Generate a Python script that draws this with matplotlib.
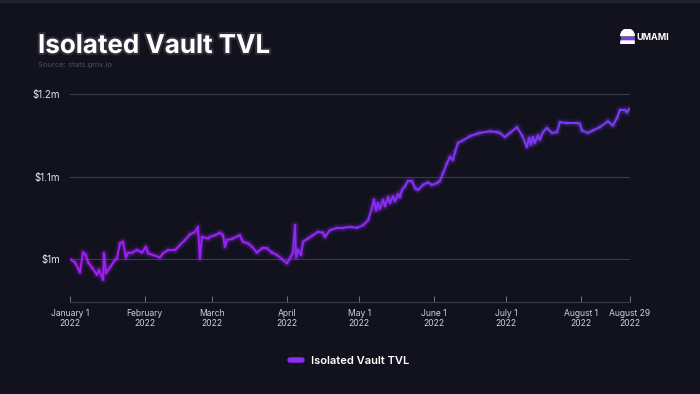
import numpy as np
import matplotlib.pyplot as plt
from matplotlib.collections import LineCollection
from matplotlib.colors import LinearSegmentedColormap
from matplotlib.lines import Line2D
from matplotlib.patches import Rectangle, Wedge, FancyBboxPatch
import matplotlib.patheffects as pe

plt.rcParams['font.family'] = ['Inter', 'DejaVu Sans']

# days since Jan 1 2022, TVL in thousands of USD
day = [0, 2.1, 4.1, 5.4, 6.6, 7.5, 9.1, 11.2, 12.0, 13.7, 14.1, 14.9, 16.6, 18.7,
       19.5, 20.7, 22.0, 23.2, 24.1, 25.7, 27.8, 29.9, 31.5, 32.4, 34.4, 37.3,
       38.6, 40.7, 43.6, 45.6, 47.7, 49.8, 51.9, 53.1, 53.9, 54.8, 57.3, 58.1,
       60.2, 62.2, 63.5, 64.3, 65.1, 67.6, 70.5, 71.8, 73.9, 75.5, 77.6, 79.7,
       81.7, 83.8, 85.9, 88.0, 90.0, 91.3, 92.5, 93.4, 93.8, 94.6, 95.9, 96.7,
       98.8, 100.8, 102.9, 105.0, 105.8, 107.9, 110.8, 113.3, 116.2, 119.1,
       121.6, 123.7, 125.3, 126.1, 127.0, 127.8, 128.6, 129.9, 130.7, 132.0,
       132.8, 134.0, 134.9, 136.1, 136.9, 137.8, 139.0, 140.2, 141.9, 143.2,
       144.4, 146.5, 148.5, 150.2, 152.3, 153.5, 154.8, 156.4, 157.7, 158.9,
       159.8, 161.0, 163.1, 166.0, 168.9, 170.1, 174.3, 177.2, 178.4, 180.5,
       182.6, 185.5, 187.6, 189.6, 190.5, 191.3, 192.1, 192.9, 194.2, 195.0,
       196.3, 197.9, 200.0, 202.1, 203.3, 206.2, 210.4, 211.6, 212.4, 214.9,
       217.0, 219.9, 223.2, 225.3, 227.0, 228.2, 230.3, 231.1, 232.4]
tvl = [1000, 996, 984, 1008, 1005, 996, 990, 981, 987, 975, 1007, 983, 990, 999,
       1001, 1019, 1021, 1002, 1008, 1008, 1011, 1008, 1015, 1007, 1005, 1002,
       1007, 1011, 1011, 1017, 1023, 1030, 1033, 1039, 1001, 1027, 1025, 1027,
       1029, 1032, 1029, 1015, 1023, 1025, 1029, 1021, 1019, 1015, 1008, 1013,
       1013, 1008, 1005, 1000, 995, 1001, 1008, 1041, 1002, 1011, 1005, 1021,
       1025, 1029, 1033, 1032, 1027, 1035, 1038, 1038, 1039, 1038,
       1041, 1047, 1062, 1072, 1059, 1068, 1061, 1072, 1064, 1075,
       1068, 1076, 1070, 1079, 1075, 1084, 1088, 1095, 1095, 1086,
       1084, 1090, 1093, 1090, 1092, 1095, 1104, 1116, 1124, 1120,
       1130, 1141, 1144, 1149, 1152, 1153, 1155, 1154, 1153, 1148,
       1153, 1160, 1150, 1136, 1147, 1139, 1148, 1141, 1150, 1145,
       1154, 1159, 1153, 1154, 1166, 1165, 1165, 1164, 1156, 1153,
       1156, 1160, 1167, 1162, 1171, 1181, 1181, 1178, 1183]

tick_days = [0, 31, 59, 90, 120, 151, 181, 212, 232.4]
tick_labels = ['January 1\n2022', 'February\n2022', 'March\n2022', 'April\n2022',
               'May 1\n2022', 'June 1\n2022', 'July 1\n2022', 'August 1\n2022',
               'August 29\n2022']
y_ticks = [1000, 1100, 1200]
y_labels = [r'\$1m', r'\$1.1m', r'\$1.2m']

bg = '#12121e'
fig = plt.figure(figsize=(7, 3.94), dpi=100, facecolor=bg)
fig.patches.append(Rectangle((0, 1 - 2 / 394), 1, 2 / 394, transform=fig.transFigure,
                             color='#22222e', zorder=0))
ax = fig.add_axes([0.1, 0.2335, 0.8, 0.538], facecolor=bg)

# gradient purple line with soft glow
x = np.array(day)
y = np.array(tvl, dtype=float)
pts = np.column_stack([x, y]).reshape(-1, 1, 2)
segs = np.concatenate([pts[:-1], pts[1:]], axis=1)
cmap = LinearSegmentedColormap.from_list('tvl', ['#a31cf2', '#8c2af5', '#743ff2'])
norm = plt.Normalize(x.min(), x.max())
for lw, a in [(6, 0.07), (3.5, 0.15), (1.5, 1.0)]:
    lc = LineCollection(segs, cmap=cmap, norm=norm, linewidths=lw, alpha=a,
                        capstyle='round', joinstyle='round', zorder=3)
    lc.set_array(x[:-1])
    ax.add_collection(lc)

ax.set_xlim(0, 232.4)
ax.set_ylim(948, 1205)
ax.set_xticks(tick_days)
ax.set_xticklabels(tick_labels, fontsize=6.2, color='#cfcfd8', linespacing=1.15)
ax.set_yticks(y_ticks)
ax.set_yticklabels(y_labels, fontsize=7, color='#e6e6ee')
ax.tick_params(axis='x', direction='in', length=4, width=0.8, color='#6a6a78', pad=5)
ax.tick_params(axis='y', length=0, pad=7)
ax.grid(axis='y', color='#3a3a48', linewidth=0.8)
ax.set_axisbelow(True)
for s in ['left', 'top', 'right']:
    ax.spines[s].set_visible(False)
ax.spines['bottom'].set_color('#3a3a48')
ax.spines['bottom'].set_linewidth(0.8)

# title and source
fig.text(38 / 700, 1 - 53 / 394, 'Isolated Vault TVL', fontsize=18.7, fontweight='bold',
         color='white', va='baseline',
         path_effects=[pe.withStroke(linewidth=3, foreground='#ffffff', alpha=0.12)])
fig.text(38 / 700, 1 - 67 / 394, 'Source: stats.gmx.io', fontsize=5.5, color='#4e4e5e',
         va='baseline')

# logo
lax = fig.add_axes([620 / 700, 1 - 44 / 394, 15 / 700, 15 / 394])
lax.set_xlim(0, 1)
lax.set_ylim(0, 1)
lax.axis('off')
lax.add_patch(Wedge((0.5, 0.55), 0.45, 0, 180, color='white'))
lax.add_patch(Rectangle((0.05, 0.28), 0.9, 0.2, color='#7b3cf0'))
lax.add_patch(FancyBboxPatch((0.08, 0.04), 0.84, 0.14, boxstyle='round,pad=0.02',
                             color='white'))
fig.text(636 / 700, 1 - 37 / 394, 'UMAMI', fontsize=6.5, fontweight='bold',
         color='white', va='center')

# legend
handle = Line2D([], [], color='#8a2cf4', linewidth=4, solid_capstyle='round')
fig.legend([handle], ['Isolated Vault TVL'], loc='center',
           bbox_to_anchor=(0.5, 1 - 361 / 394), frameon=False, handlelength=1.1,
           handletextpad=0.8, prop={'size': 8, 'weight': 'semibold'},
           labelcolor='white')

fig.savefig('out.png', dpi=100, facecolor=bg)
